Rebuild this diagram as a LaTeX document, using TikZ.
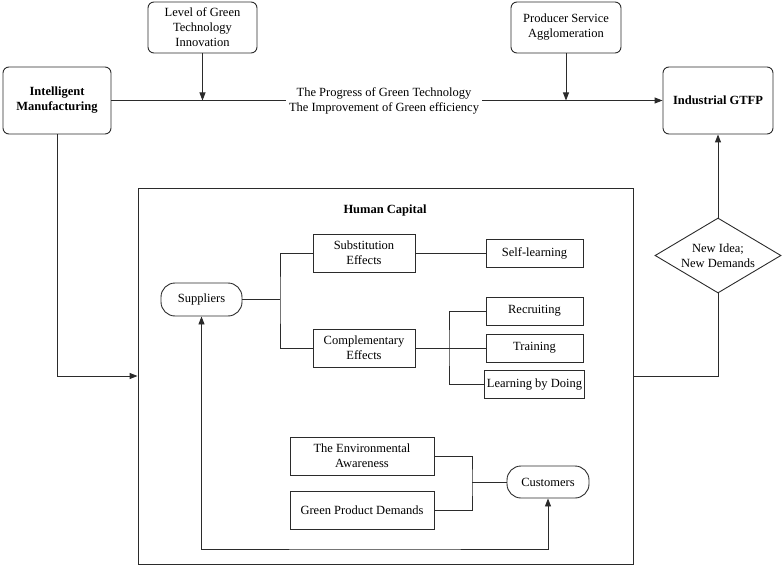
\documentclass[tikz,border=0pt]{standalone}
\usepackage{fontspec}
\setmainfont{Liberation Serif}
\usepackage{tikz}
\usetikzlibrary{arrows.meta, positioning, shapes.geometric}
\definecolor{lineink}{HTML}{2B2B2B}

\begin{document}
\begin{tikzpicture}[
    x=1pt,
    y=-1pt,
    font=\fontsize{12.5}{15}\selectfont,
    roundbox/.style={
        draw=lineink,
        rounded corners=6pt,
        line width=0.9pt,
        align=center,
        inner sep=2pt
    },
    pillbox/.style={
        draw=lineink,
        rounded corners=14pt,
        line width=0.9pt,
        align=center,
        minimum width=81pt,
        minimum height=33pt,
        inner sep=2pt
    },
    plainbox/.style={
        draw=lineink,
        line width=0.9pt,
        align=center,
        inner sep=2pt
    },
    ideabox/.style={
        draw=lineink,
        diamond,
        aspect=1.68,
        line width=0.9pt,
        align=center,
        minimum width=126pt,
        minimum height=75pt,
        inner sep=0pt
    },
    conn/.style={
        draw=lineink,
        line width=0.9pt
    },
    arr/.style={
        -{Triangle[length=8pt,width=6pt]},
        draw=lineink,
        line width=0.9pt
    },
    biarr/.style={
        {Triangle[length=8pt,width=6pt]}-{Triangle[length=8pt,width=6pt]},
        draw=lineink,
        line width=0.9pt
    }
]

\useasboundingbox (0,0) rectangle (782,567);

% -----------------------------------------------------
% Top row
% -----------------------------------------------------

\node[roundbox, minimum width=109pt, minimum height=51pt] (level) at (202.5,27.5)
{Level of Green\\Technology\\Innovation};

\node[roundbox, minimum width=110pt, minimum height=51pt] (producer) at (566,27.5)
{Producer Service\\Agglomeration};

\node[roundbox, minimum width=108pt, minimum height=67pt, font=\fontsize{12.5}{15}\selectfont\bfseries] (intel) at (57,100.5)
{Intelligent\\Manufacturing};

\node[roundbox, minimum width=110pt, minimum height=67pt, font=\fontsize{12.5}{15}\selectfont\bfseries] (gtfp) at (718,100.5)
{Industrial GTFP};

% -----------------------------------------------------
% Human capital frame
% -----------------------------------------------------

\node[plainbox, minimum width=495pt, minimum height=376pt] (human) at (385.5,376) {};
\node[font=\fontsize{12.5}{15}\selectfont\bfseries] (humantitle) at (385,210) {Human Capital};

\node[pillbox] (suppliers) at (201.5,299.5) {Suppliers};

\node[plainbox, minimum width=102pt, minimum height=38pt] (subst) at (364,253)
{Substitution\\Effects};
\node[plainbox, minimum width=102pt, minimum height=38pt] (compl) at (364,348)
{Complementary\\Effects};

\node[plainbox, minimum width=97pt, minimum height=28pt] (selfl) at (534.5,253) {Self-learning};
\node[plainbox, minimum width=97pt, minimum height=28pt] (recruit) at (534.5,311) {Recruiting};
\node[plainbox, minimum width=97pt, minimum height=28pt] (train) at (534.5,348) {Training};
\node[plainbox, minimum width=97pt, minimum height=28pt] (doing) at (534.5,384.5) {Learning by Doing};

\node[plainbox, minimum width=144pt, minimum height=38pt] (aware) at (362,456)
{The Environmental\\Awareness};
\node[plainbox, minimum width=144pt, minimum height=38pt] (greendem) at (362,510)
{Green Product Demands};

\node[pillbox, minimum width=82pt, minimum height=32pt] (customers) at (548,482) {Customers};

\node[ideabox] (newidea) at (718,255.5) {New Idea;\\New Demands};

% -----------------------------------------------------
% Main path
% -----------------------------------------------------

\draw[arr] (intel.east) -- (gtfp.west)
    node[
        midway,
        xshift=-3pt,
        fill=white,
        inner xsep=3pt,
        inner ysep=0pt,
        align=center
    ]
    {The Progress of Green Technology\\The Improvement of Green efficiency};

\draw[arr] (level.south) -- (level.south |- intel.east);
\draw[arr] (producer.south) -- (producer.south |- gtfp.west);

\draw[arr] (intel.south) |- (human.west);
\draw[conn] (human.east) -| (newidea.south);
\draw[arr] (newidea.north) -- (gtfp.south);

% -----------------------------------------------------
% Inside the frame
% -----------------------------------------------------

\coordinate (forksup) at (280,299.5);
\coordinate (forkcomp) at (449,348);
\coordinate (forkcus) at (472,482);
\coordinate (loopbot) at (375,549);

\draw[conn] (suppliers.east) -- (forksup);
\draw[conn] (subst.west) -| (forksup) |- (compl.west);
\draw[conn] (subst.east) -- (selfl.west);

\draw[conn] (compl.east) -- (train.west);
\draw[conn] (recruit.west) -| (forkcomp) |- (doing.west);

\draw[conn] (aware.east) -| (forkcus) |- (greendem.east);
\draw[conn] (forkcus) -- (customers.west);

% Schleife unten
\draw[biarr] (suppliers.south) |- (loopbot) -| (customers.south);

\end{tikzpicture}
\end{document}
